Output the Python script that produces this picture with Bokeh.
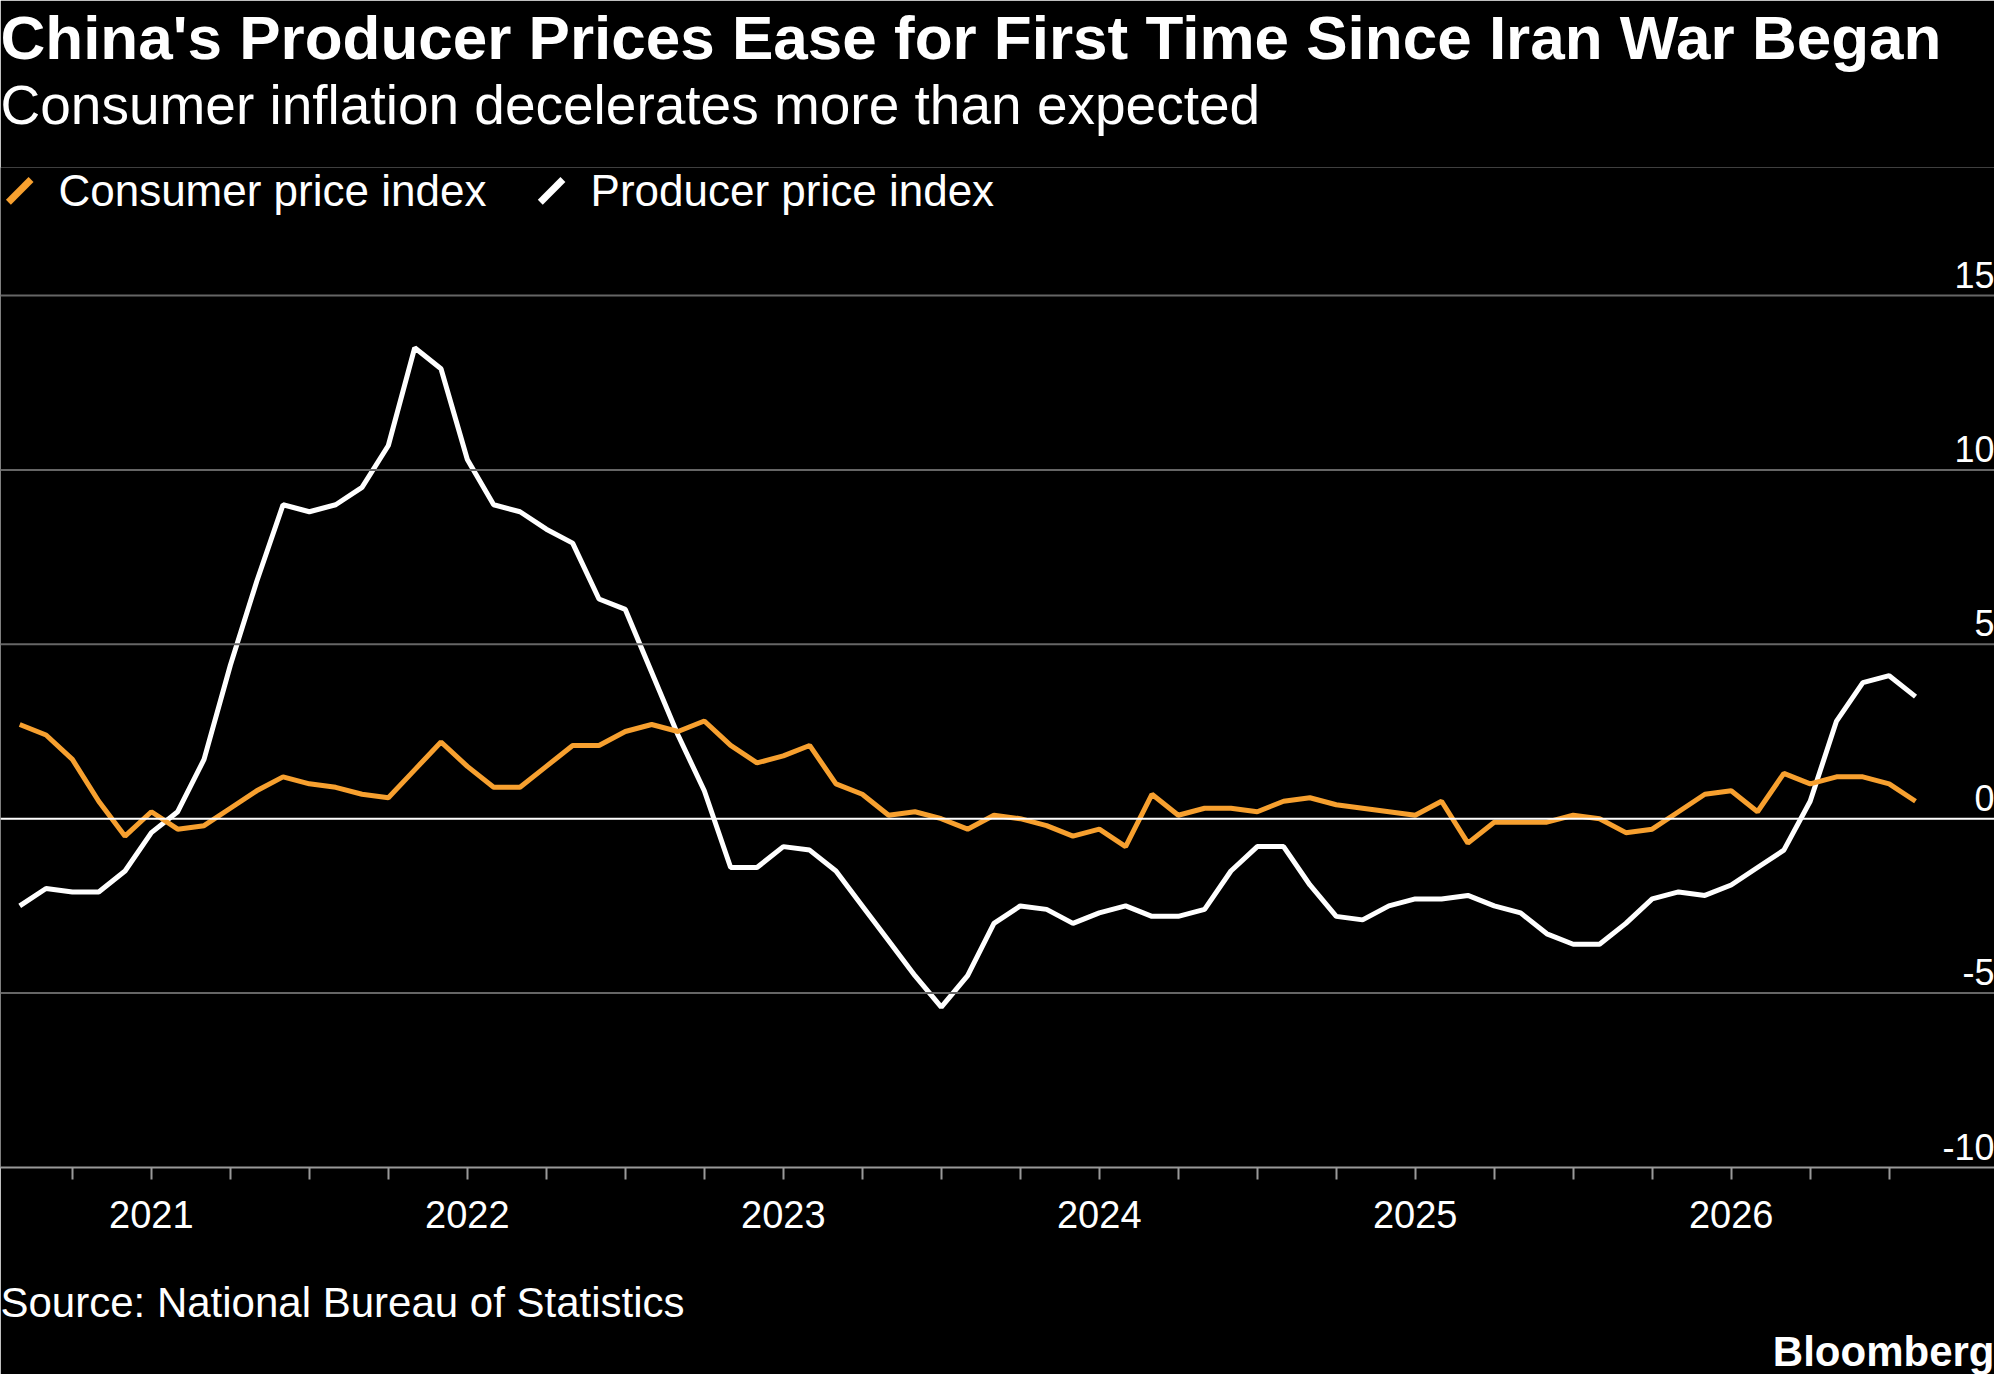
from bokeh.plotting import figure
from bokeh.models import Title, FixedTicker, Span
from bokeh.core.properties import value
from bokeh.embed import file_html
from bokeh.resources import INLINE

# months from Aug 2020 (index 0) to Aug 2026 (index 72)
ppi = [-2.5,-2.0,-2.1,-2.1,-1.5,-0.4,0.2,1.7,4.4,6.8,9.0,8.8,9.0,9.5,10.7,13.5,12.9,10.3,9.0,8.8,8.3,7.9,6.3,6.0,
       4.2,2.4,0.8,-1.4,-1.4,-0.8,-0.9,-1.5,-2.5,-3.5,-4.5,-5.4,-4.5,-3.0,-2.5,-2.6,-3.0,-2.7,-2.5,-2.8,-2.8,-2.6,
       -1.5,-0.8,-0.8,-1.9,-2.8,-2.9,-2.5,-2.3,-2.3,-2.2,-2.5,-2.7,-3.3,-3.6,-3.6,-3.0,-2.3,-2.1,-2.2,-1.9,-1.4,-0.9,
       0.5,2.8,3.9,4.1,3.5]
cpi = [2.7,2.4,1.7,0.5,-0.5,0.2,-0.3,-0.2,0.3,0.8,1.2,1.0,0.9,0.7,0.6,1.4,2.2,1.5,0.9,0.9,1.5,2.1,2.1,2.5,
       2.7,2.5,2.8,2.1,1.6,1.8,2.1,1.0,0.7,0.1,0.2,0.0,-0.3,0.1,0.0,-0.2,-0.5,-0.3,-0.8,0.7,0.1,0.3,0.3,0.2,
       0.5,0.6,0.4,0.3,0.2,0.1,0.5,-0.7,-0.1,-0.1,-0.1,0.1,0.0,-0.4,-0.3,0.2,0.7,0.8,0.2,1.3,1.0,1.2,1.2,1.0,0.5]
months = list(range(len(ppi)))
years = ["2021","2022","2023","2024","2025","2026"]
year_idx = [5,17,29,41,53,65]
yticks = [-10,-5,0,5,10,15]
series_names = ["Consumer price index", "Producer price index"]

FONT = "Liberation Sans"
ORANGE = "#f7a02f"
p = figure(frame_width=1994, frame_height=1000, output_backend="svg", toolbar_location=None,
           x_range=(-0.73, 75.0), y_range=(-10, 18.67),
           background_fill_color="black", border_fill_color="black",
           min_border_left=0, min_border_right=0, min_border_top=0, min_border_bottom=0)
p.outline_line_color = None
p.xgrid.visible = False
p.ygrid.visible = False
p.yaxis.visible = False

for v in yticks:
    if v == -10:
        continue
    p.add_layout(Span(location=v, dimension="width",
                      line_color="white" if v == 0 else "#666666", line_width=2))
p.text(x=[75.0]*len(yticks), y=yticks, text=[str(v) for v in yticks], text_align="right",
       text_baseline="bottom", y_offset=-8, text_color="white", text_font_size="36px",
       text_font=value(FONT))

ax = p.xaxis[0]
ax.ticker = FixedTicker(ticks=list(range(2, 73, 3)))
ax.major_label_overrides = {i: "" for i in range(2, 73, 3)} | {i: y for i, y in zip(year_idx, years)}
ax.axis_line_color = "#999999"
ax.axis_line_width = 2
ax.major_tick_line_color = "#999999"
ax.major_tick_line_width = 2
ax.major_tick_in = 0
ax.major_tick_out = 12
ax.minor_tick_line_color = None
ax.major_label_text_color = "white"
ax.major_label_text_font_size = "38px"
ax.major_label_text_font = FONT
ax.major_label_standoff = 21

p.line(months, ppi, line_color="white", line_width=5)
p.line(months, cpi, line_color=ORANGE, line_width=5)

# legend row: slash markers + labels
LEG_Y = 18.0
p.scatter(x=[0.0, 20.2], y=[LEG_Y, LEG_Y], marker="dash", angle=0.785, size=32,
          line_width=7, line_color=[ORANGE, "white"])
p.text(x=[1.47, 21.68], y=[LEG_Y, LEG_Y], text=series_names, text_baseline="middle",
       text_color="white", text_font_size="44px", text_font=value(FONT))

def title(txt, size, place, style="normal", align="left"):
    t = Title(text=txt, text_font_size=size, text_color="white", text_font=FONT,
              text_font_style=style, align=align, offset=0, standoff=0)
    p.add_layout(t, place)

p.title = None
title(" ", "26px", "above")
title("Consumer inflation decelerates more than expected", "55px", "above")
title("China's Producer Prices Ease for First Time Since Iran War Began", "62px", "above", style="bold")
title(" ", "40px", "below")
title("Source: National Bureau of Statistics", "42px", "below")
title("Bloomberg", "42px", "below", style="bold", align="right")

open("out.html", "w").write(file_html(p, INLINE))
